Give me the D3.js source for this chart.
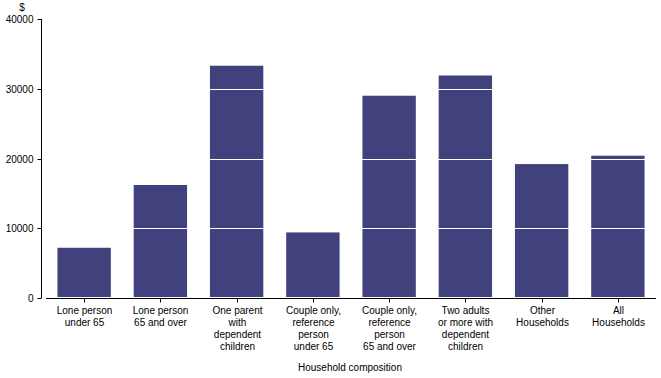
<!DOCTYPE html>
<html>
<head>
<meta charset="utf-8">
<script src="https://cdn.jsdelivr.net/npm/d3@7"></script>
<style>
  body { margin: 0; background: #fff; }
  svg { display: block; font-family: "Liberation Sans", Arial, sans-serif; font-size: 10px; }
</style>
</head>
<body>
<svg id="chart" width="661" height="378"></svg>
<script>
// categories and values
const categories = [
  ["Lone person", "under 65"],
  ["Lone person", "65 and over"],
  ["One parent", "with", "dependent", "children"],
  ["Couple only,", "reference", "person", "under 65"],
  ["Couple only,", "reference", "person", "65 and over"],
  ["Two adults", "or more with", "dependent", "children"],
  ["Other", "Households"],
  ["All", "Households"],
];
const values = [7200, 16200, 33300, 9400, 29000, 31900, 19200, 20400];
const yTicks = [0, 10000, 20000, 30000, 40000];

const svg = d3.select("#chart");
const W = 661, H = 378;

const x = d3.scaleBand().domain(d3.range(categories.length)).range([46, 656]).paddingInner(0.3).paddingOuter(0.15);
const y = d3.scaleLinear().domain([0, 40000]).range([298, 19]);

// bars
svg.append("g").selectAll("rect")
  .data(values)
  .join("rect")
  .attr("x", (d, i) => x(i))
  .attr("width", x.bandwidth())
  .attr("y", (d) => y(d))
  .attr("height", (d) => y(0) - 1 - y(d))
  .attr("fill", "#41417d");

// white gridlines, only show over the bars
svg.append("g").selectAll("line")
  .data(yTicks.slice(1, -1))
  .join("line")
  .attr("x1", 46).attr("x2", 656)
  .attr("y1", (d) => Math.round(y(d)) + 0.5)
  .attr("y2", (d) => Math.round(y(d)) + 0.5)
  .attr("stroke", "#fff").attr("stroke-width", 1);

// y axis
const ya = svg.append("g").attr("transform", "translate(41.5,0)");
ya.append("line").attr("y1", y(40000)).attr("y2", y(0)).attr("stroke", "#000");
ya.selectAll("g.t").data(yTicks).join("g")
  .attr("transform", (d) => `translate(0,${Math.round(y(d)) + 0.5})`)
  .each(function (d) {
    const t = d3.select(this);
    t.append("line").attr("x1", -4).attr("x2", 0).attr("stroke", "#000");
    t.append("text").attr("x", -8).attr("dy", "0.35em").attr("text-anchor", "end").text(d);
  });
svg.append("text").attr("x", 22).attr("y", 11).attr("text-anchor", "middle").text("$");

// x axis
const xa = svg.append("g").attr("transform", "translate(0,298.5)");
xa.append("line").attr("x1", 46).attr("x2", 656).attr("stroke", "#000");
const xt = xa.selectAll("g.t").data(categories).join("g")
  .attr("transform", (d, i) => `translate(${Math.round(x(i) + x.bandwidth() / 2) + 0.5},0)`);
xt.append("line").attr("y2", 4).attr("stroke", "#000");
xt.append("text").attr("text-anchor", "middle")
  .selectAll("tspan").data((d) => d).join("tspan")
  .attr("x", 0).attr("y", (d, i) => 15 + i * 12).text((d) => d);

svg.append("text").attr("x", 350).attr("y", 371).attr("text-anchor", "middle").text("Household composition");
</script>
</body>
</html>
